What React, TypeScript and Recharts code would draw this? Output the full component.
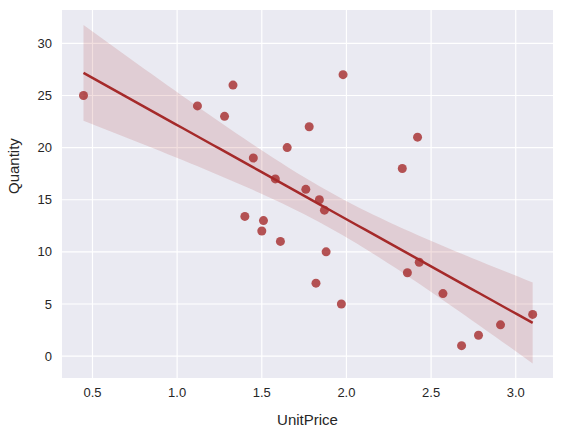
import React from 'react';
import { ComposedChart, Scatter, Line, Area, XAxis, YAxis, CartesianGrid } from 'recharts';

const unitPrice = [0.447,1.12,1.28,1.33,1.45,1.40,1.51,1.50,1.58,1.61,1.65,1.78,1.76,1.84,1.87,1.88,1.82,1.98,1.97,2.33,2.42,2.43,2.36,2.57,2.68,2.78,2.91,3.10];
const quantity = [25,24,23,26,19,13.4,13,12,17,11,20,22,16,15,14,10,7,27,5,18,21,9,8,6,1,2,3,4];
const xTicks = [0.5,1.0,1.5,2.0,2.5,3.0];
const yTicks = [0,5,10,15,20,25,30];

const n = unitPrice.length;
const xbar = unitPrice.reduce((a,b)=>a+b,0)/n;
const ybar = quantity.reduce((a,b)=>a+b,0)/n;
let sxx=0, sxy=0;
for (let i=0;i<n;i++){ sxx+=(unitPrice[i]-xbar)**2; sxy+=(unitPrice[i]-xbar)*(quantity[i]-ybar); }
const slope = sxy/sxx, icpt = ybar - slope*xbar;
let sse=0; for (let i=0;i<n;i++){ sse+=(quantity[i]-icpt-slope*unitPrice[i])**2; }
const s = Math.sqrt(sse/(n-2));
const tval = 1.6;
const xmin = Math.min(...unitPrice), xmax = Math.max(...unitPrice);
const fit = Array.from({length:60},(_,k)=>{
  const x = xmin + (xmax-xmin)*k/59;
  const y = icpt + slope*x;
  const se = s*Math.sqrt(1/n + (x-xbar)**2/sxx);
  return { x, y, band: [y - tval*se, y + tval*se] };
});
const points = unitPrice.map((x,i)=>({ x, q: quantity[i] }));

const font = 'Liberation Sans, Arial, sans-serif';
const tick = { fill: '#262626', fontSize: 13, fontFamily: font };

export default function App() {
  return (
    <div style={{ position: 'absolute', left: 0, top: 0 }}>
      <ComposedChart width={566} height={437} data={fit} margin={{ top: 10, right: 13, left: 0, bottom: 0 }}>
        <CartesianGrid fill="#eaeaf2" stroke="#ffffff" strokeWidth={1.2} horizontalValues={yTicks} verticalValues={xTicks} />
        <XAxis type="number" dataKey="x" domain={[0.32, 3.22]} ticks={xTicks} tickFormatter={(v)=>v.toFixed(1)} height={59} axisLine={false} tickLine={false} tick={tick} tickMargin={4}
          label={{ value: 'UnitPrice', position: 'insideBottom', offset: 12, fill: '#262626', fontSize: 15, fontFamily: font }} allowDataOverflow />
        <YAxis type="number" domain={[-2.1, 33.2]} ticks={yTicks} width={62} axisLine={false} tickLine={false} tick={tick} tickMargin={4}
          label={{ value: 'Quantity', angle: -90, position: 'insideLeft', offset: 14, fill: '#262626', fontSize: 15, fontFamily: font }} allowDataOverflow />
        <Area dataKey="band" type="linear" stroke="none" fill="#a52a2a" fillOpacity={0.15} isAnimationActive={false} />
        <Line dataKey="y" type="linear" stroke="#a52a2a" strokeWidth={2.5} dot={false} isAnimationActive={false} />
        <Scatter data={points} dataKey="q" fill="#a52a2a" fillOpacity={0.8} isAnimationActive={false}
          shape={(p: any) => <circle cx={p.cx} cy={p.cy} r={4.5} fill="#a52a2a" fillOpacity={0.8} />} />
      </ComposedChart>
    </div>
  );
}
